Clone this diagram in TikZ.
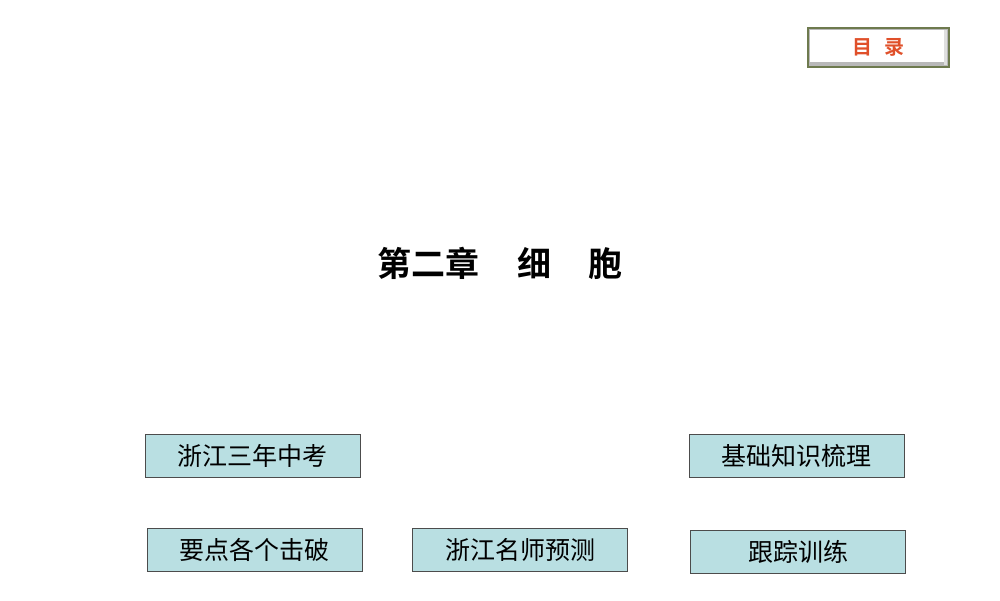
\documentclass[tikz,border=0pt]{standalone}
\usepackage{fontspec}
\newfontfamily\cjk{Noto Sans CJK SC}
\newfontfamily\cjkb{Noto Sans CJK SC Bold}
\definecolor{boxfill}{HTML}{B9DFE2}
\definecolor{btnred}{HTML}{E0502A}
\definecolor{olive}{HTML}{6E7A4E}
\begin{document}
\begin{tikzpicture}[x=1pt,y=-1pt,
  navbox/.style={draw=black!70,line width=0.8pt,fill=boxfill,minimum width=215pt,minimum height=43pt,inner sep=0pt,font=\cjk\fontsize{25}{28}\selectfont}]
\useasboundingbox (0,0) rectangle (1000,600);
\fill[white] (0,0) rectangle (1000,600);
% top button
\fill[gray!55] (808,28) rectangle (949,67);
\fill[white] (810,30) rectangle (944,62);
\fill[gray!25] (944,30) rectangle (947,65);
\draw[olive,line width=1.2pt] (808,28) rectangle (949,67);
\node[text=btnred,font=\cjkb\fontsize{20}{22}\selectfont] (mulu) at (878,47) {目\hspace{0.6em}录};
\node[font=\cjkb\fontsize{34}{38}\selectfont] (title) at (500,263) {第二章\hspace{1.1em}细\hspace{1.1em}胞};
\node[navbox] (a) at (252.5,455.5) {浙江三年中考};
\node[navbox] (b) at (796.5,455.5) {基础知识梳理};
\node[navbox] (c) at (254.5,550) {要点各个击破};
\node[navbox] (d) at (520,550) {浙江名师预测};
\node[navbox] (e) at (798,551.5) {跟踪训练};
\end{tikzpicture}
\end{document}
